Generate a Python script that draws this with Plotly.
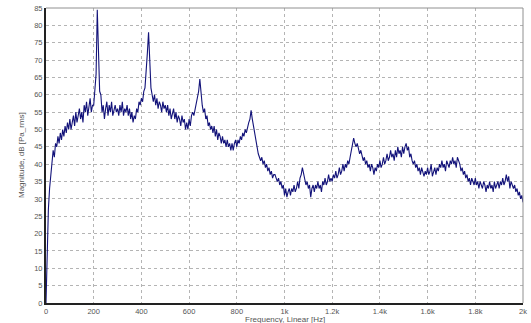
import plotly.graph_objects as go

freq_step_hz = 5
magnitude_db = [
    # 0-95
    0, 17, 27, 33, 37, 41, 44, 42, 46, 45, 48, 46, 49, 47, 50, 48, 51, 49, 52, 50,
    # 100-195
    53, 50, 52, 54, 51, 55, 52, 54, 56, 53, 55, 52, 57, 55, 58, 54, 56, 59, 55, 57,
    # 200-295
    57, 61, 66, 84.5, 68, 61, 60, 55, 57, 53, 56, 58, 54, 57, 55, 58, 54, 56, 57, 55,
    # 300-395
    56, 54, 57, 55, 58, 54, 56, 55, 57, 54, 56, 53, 55, 52, 54, 53, 56, 55, 58, 57,
    # 400-495
    59, 58, 61, 62, 66, 72, 78, 68, 62, 60, 58, 60, 57, 59, 56, 58, 57, 55, 58, 56,
    # 500-595
    57, 55, 57, 54, 56, 53, 55, 56, 53, 55, 52, 54, 53, 51, 54, 52, 53, 50, 52, 50,
    # 600-695
    53, 51, 54, 55, 54, 56, 57, 59, 61, 64.5, 60, 57, 55, 56, 53, 54, 51, 52, 50, 51,
    # 700-795
    49, 51, 48, 50, 47, 49, 48, 46, 48, 46, 47, 45, 47, 45, 46, 44, 46, 44, 46, 47,
    # 800-895
    45, 47, 46, 48, 47, 49, 48, 50, 49, 51, 52, 53, 55.5, 53, 51, 48, 46, 44, 43, 42,
    # 900-995
    41, 42, 40, 41, 39, 40, 38, 39, 37, 38, 36, 37, 37, 36, 35, 36, 34, 35, 33, 34,
    # 1000-1095
    31, 33, 30.5, 32, 33, 31, 33, 32, 34, 32, 33, 35, 33, 36, 37, 39, 37, 36, 34, 35,
    # 1100-1195
    33, 34, 30.5, 33, 34, 32, 34, 33, 35, 33, 34, 32, 35, 34, 36, 34, 35, 37, 35, 36,
    # 1200-1295
    35, 37, 36, 38, 36, 37, 39, 37, 38, 40, 38, 40, 39, 41, 40, 42, 44, 45, 47.5, 46,
    # 1300-1395
    45, 46, 44, 43, 44, 42, 41, 42, 40, 41, 39, 40, 38, 40, 39, 37, 39, 38, 40, 39,
    # 1400-1495
    41, 39, 40, 42, 40, 41, 43, 41, 42, 44, 42, 43, 41, 44, 42, 45, 43, 44, 42, 45,
    # 1500-1595
    43, 45, 46, 44, 45, 42, 43, 41, 40, 41, 39, 40, 38, 39, 37, 39, 38, 36.5, 38, 37,
    # 1600-1695
    39, 37, 38, 40, 36.5, 38, 39, 37, 39, 38, 40, 39, 41, 39, 40, 38, 41, 40, 39, 41,
    # 1700-1795
    40, 42, 40, 41, 39, 42, 41, 40, 38, 39, 37, 38, 36, 37, 35, 36, 34, 36, 35, 34,
    # 1800-1895
    36, 34, 35, 33, 35, 34, 33, 35, 34, 32, 34, 33, 35, 33, 34, 32, 35, 33, 34, 35,
    # 1900-2000
    33, 35, 34, 36, 34, 35, 37, 35, 36.5, 33, 35, 34, 33, 34, 32, 33, 31, 32, 30, 31, 29,
]
freq_hz = [i * freq_step_hz for i in range(len(magnitude_db))]

x_tick_vals = [0, 200, 400, 600, 800, 1000, 1200, 1400, 1600, 1800, 2000]
x_tick_text = ["0", "200", "400", "600", "800", "1k", "1.2k", "1.4k", "1.6k", "1.8k", "2k"]
y_tick_vals = list(range(0, 90, 5))

font_family = "Liberation Sans, Arial, sans-serif"

fig = go.Figure()
fig.add_trace(go.Scatter(
    x=freq_hz, y=magnitude_db, mode="lines",
    line=dict(color="#13137a", width=1.1),
    hoverinfo="skip", showlegend=False,
))

fig.update_layout(
    width=531, height=323,
    margin=dict(l=46, r=8, t=8, b=20, autoexpand=False),
    paper_bgcolor="white", plot_bgcolor="white",
    font=dict(family=font_family, size=8, color="#555555"),
    xaxis=dict(
        range=[0, 2000], tickvals=x_tick_vals, ticktext=x_tick_text,
        showgrid=True, gridcolor="#b4b4b4", griddash="dot", gridwidth=1,
        showline=True, linecolor="#222222", linewidth=2,
        ticks="", tickfont=dict(size=7.5, color="#555555"),
        ticklabeloverflow="allow", automargin=False,
        zeroline=False, fixedrange=True,
    ),
    yaxis=dict(
        range=[0, 85], tickvals=y_tick_vals,
        showgrid=True, gridcolor="#b4b4b4", griddash="dot", gridwidth=1,
        showline=True, linecolor="#222222", linewidth=2,
        ticks="", tickfont=dict(size=7.5, color="#555555"),
        ticklabeloverflow="allow", automargin=False,
        zeroline=False, fixedrange=True,
    ),
    shapes=[
        dict(type="line", xref="x domain", yref="y domain", x0=0, x1=1, y0=1, y1=1,
             line=dict(color="#909090", width=1)),
        dict(type="line", xref="x domain", yref="y domain", x0=1, x1=1, y0=0, y1=1,
             line=dict(color="#909090", width=1)),
    ],
    annotations=[
        dict(text="Frequency, Linear [Hz]", xref="paper", yref="paper",
             x=0.5, y=0, yshift=-16, yanchor="middle", showarrow=False,
             font=dict(size=8, color="#555555")),
        dict(text="Magnitude, dB [Pa_rms]", xref="paper", yref="paper",
             x=0, xshift=-31, y=0.5, textangle=-90, showarrow=False,
             font=dict(size=8, color="#555555")),
    ],
)

fig.write_html(
    "out.html",
    config={"displayModeBar": False},
    post_script="document.body.style.margin='0px';document.body.style.overflow='hidden';",
)
